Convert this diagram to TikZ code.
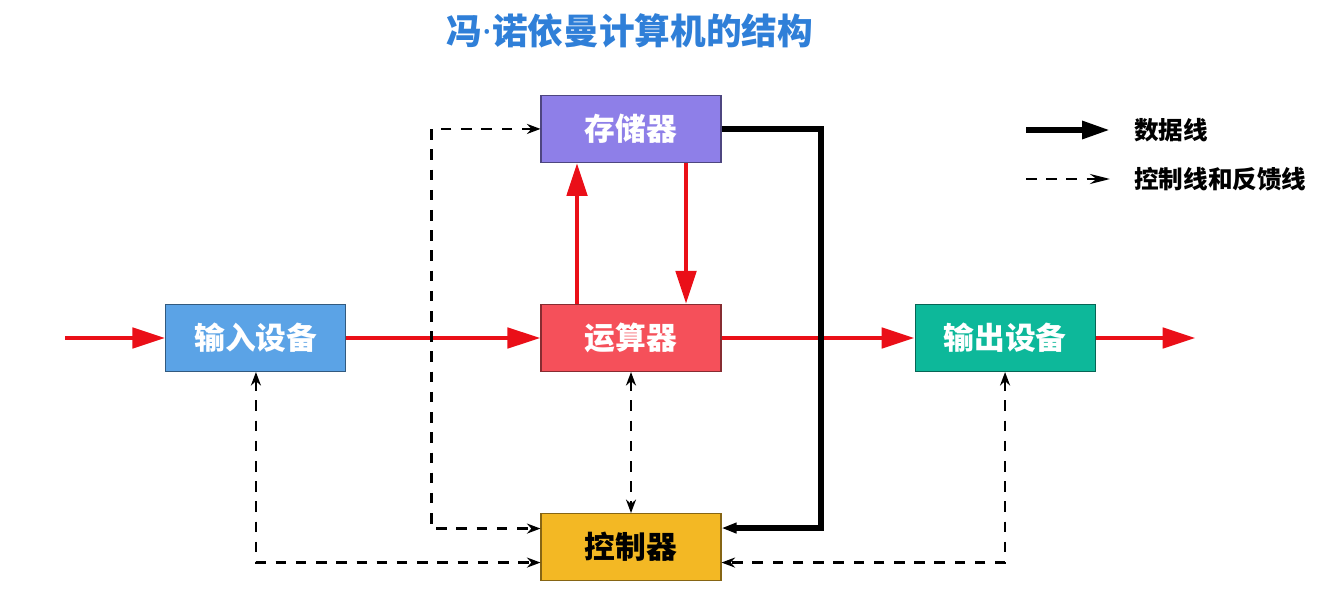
\documentclass[tikz,border=0pt]{standalone}
\usepackage{fontspec}
\newfontfamily\cjk{Noto Sans CJK SC}
\newfontfamily\latin{Noto Sans}
\usepackage{tikz}
\usetikzlibrary{positioning,arrows.meta}

\definecolor{memfill}{HTML}{8E7FE8}
\definecolor{alufill}{HTML}{F5505A}
\definecolor{infill}{HTML}{5BA3E6}
\definecolor{outfill}{HTML}{0DB89A}
\definecolor{ctrlfill}{HTML}{F3B824}
\definecolor{datared}{HTML}{EA0F18}
\definecolor{titleblue}{HTML}{2F7FD8}

\begin{document}
\begin{tikzpicture}[
		unit/.style={draw=#1!55!black, fill=#1, line width=0.6pt, minimum width=3.6cm, minimum height=1.34cm, inner sep=0pt, font=\cjk\bfseries\fontsize{17.5}{20}\selectfont, text=white},
		redline/.style={draw=datared, line width=2.8pt, -{Triangle[length=0.66cm, width=0.4cm]}},
		busline/.style={draw=black, line width=3.4pt, -{Triangle[length=0.3cm, width=0.2cm]}},
		ctlline/.style={draw=black, line width=1.5pt, dash pattern=on 6pt off 5.5pt, {Stealth[length=0.27cm, width=0.2cm]}-{Stealth[length=0.27cm, width=0.2cm]}},
		legend/.style={anchor=west, font=\cjk\bfseries\fontsize{14}{16}\selectfont}
	]
		\useasboundingbox (0,0) rectangle (26.36,-12.1) ;

		\node[font=\cjk\bfseries\fontsize{20.3}{24}\selectfont, text=titleblue] (title) at (12.6,-0.62) {冯{\latin\bfseries ·}诺依曼计算机的结构} ;

		\node[unit=alufill] (alu) at (12.62,-6.76) 		{运算器} ;
		\node[unit=memfill, above=2.82cm of alu] (mem) 	{存储器} ;
		\node[unit=ctrlfill, below=2.82cm of alu, text=black] (ctrl) 	{控制器} ;
		\node[unit=infill, left=3.88cm of alu] (in) 		{输入设备} ;
		\node[unit=outfill, right=3.86cm of alu] (out) 	{输出设备} ;

		\coordinate[left=2cm of in] (src) ;
		\coordinate[right=2cm of out] (dst) ;

		% data lines
		\draw[redline] (src) -- (in) ;
		\draw[redline] (in) -- (alu) ;
		\draw[redline] (alu) -- (out) ;
		\draw[redline] (out) -- (dst) ;
		\draw[redline] ([xshift=-1.08cm]alu.north) -- ([xshift=-1.08cm]mem.south) ;
		\draw[redline] ([xshift=1.1cm]mem.south) -- ([xshift=1.1cm]alu.north) ;
		\draw[busline] (mem.east) -- ++(1.98,0) |- ([yshift=0.38cm]ctrl.east) ;

		% control and feedback lines
		\draw[ctlline] (mem.west) -- ++(-2.18,0) |- ([yshift=0.37cm]ctrl.west) ;
		\draw[ctlline] (in.south) |- ([yshift=-0.31cm]ctrl.west) ;
		\draw[ctlline] (alu.south) -- (ctrl.north) ;
		\draw[ctlline] (out.south) |- ([yshift=-0.31cm]ctrl.east) ;

		% legend
		\coordinate (l1a) at (20.52,-2.6) ;
		\coordinate (l1b) at (22.2,-2.6) ;
		\coordinate (l2a) at (20.52,-3.58) ;
		\coordinate (l2b) at (22.2,-3.58) ;
		\draw[busline, -{Triangle[length=0.56cm, width=0.34cm]}] (l1a) -- (l1b) ;
		\draw[ctlline, {}-{Stealth[length=0.4cm, width=0.2cm]}] (l2a) -- (l2b) ;
		\node[legend] (t1) at (22.56,-2.6) {数据线} ;
		\node[legend] (t2) at (22.56,-3.58) {控制线和反馈线} ;
\end{tikzpicture}
\end{document}
